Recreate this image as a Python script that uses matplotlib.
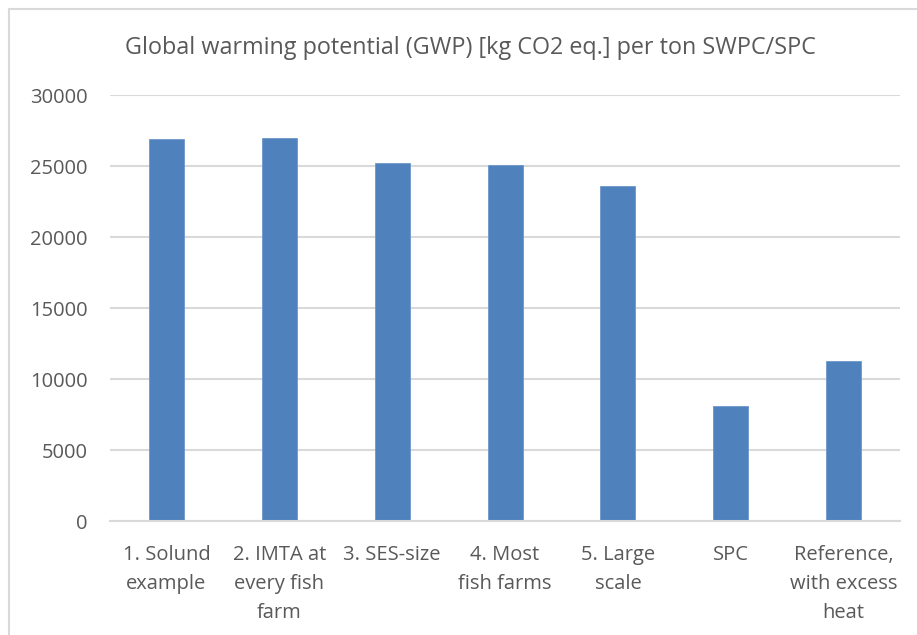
import matplotlib
matplotlib.use("Agg")
import matplotlib.pyplot as plt
from matplotlib.lines import Line2D

categories = ["1. Solund\nexample", "2. IMTA at\nevery fish\nfarm", "3. SES-size",
              "4. Most\nfish farms", "5. Large\nscale", "SPC",
              "Reference,\nwith excess\nheat"]
gwp = [26950, 27020, 25260, 25120, 23590, 8080, 11290]
yticks = [0, 5000, 10000, 15000, 20000, 25000, 30000]

plt.rcParams["font.family"] = ["Open Sans", "DejaVu Sans"]
text_color = "#595959"
grid_color = "#D9D9D9"

fig = plt.figure(figsize=(9.17, 6.35), dpi=100)
ax = fig.add_axes([0.12, 0.1795, 0.8615, 0.6705])

x = range(len(categories))
ax.bar(x, gwp, width=0.31, color="#4F81BD", edgecolor="#6C98CC", linewidth=0.6, zorder=3)

ax.set_xlim(-0.5, len(categories) - 0.5)
ax.set_ylim(0, 30000)
ax.set_yticks(yticks)
ax.set_yticklabels([str(v) for v in yticks])
ax.set_xticks(list(x))
ax.set_xticklabels(categories, linespacing=1.62, fontsize=14.5)

ax.yaxis.grid(True, color=grid_color, linewidth=1.5, zorder=0)
for s in ["top", "right", "left"]:
    ax.spines[s].set_visible(False)
ax.spines["bottom"].set_color(grid_color)
ax.spines["bottom"].set_linewidth(1.5)
ax.spines["bottom"].set_zorder(4)
ax.tick_params(axis="both", length=0, colors=text_color, labelsize=14.5)
ax.tick_params(axis="y", pad=16)
ax.tick_params(axis="x", pad=17)

fig.text(0.513, 0.925, "Global warming potential (GWP) [kg CO2 eq.] per ton SWPC/SPC",
         ha="center", va="center", fontsize=16.8, color=text_color)

# chart border (Excel-style)
fig.add_artist(Line2D([0.0098, 0.0098], [0, 0.986], color=grid_color, linewidth=1.5))
fig.add_artist(Line2D([0.0098, 1.0], [0.986, 0.986], color=grid_color, linewidth=1.5))

fig.savefig("out.png", dpi=100)
